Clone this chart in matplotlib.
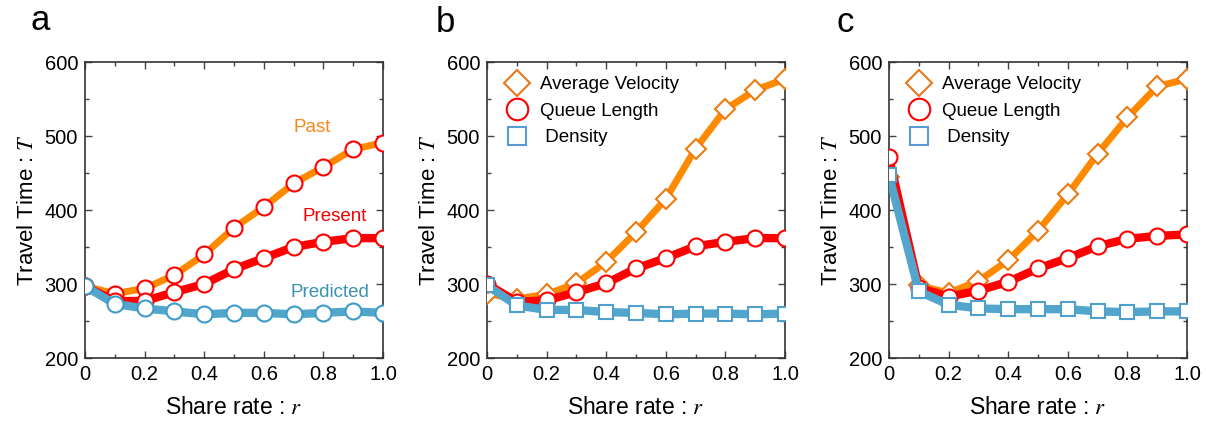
import matplotlib
matplotlib.use("Agg")
import matplotlib.pyplot as plt
from matplotlib.ticker import MultipleLocator, FixedLocator
from matplotlib.lines import Line2D

plt.rcParams['font.family'] = ['Liberation Sans', 'DejaVu Sans']
plt.rcParams['mathtext.fontset'] = 'stix'

r = [0.0, 0.1, 0.2, 0.3, 0.4, 0.5, 0.6, 0.7, 0.8, 0.9, 1.0]

# Panel a
a_past = [297, 287, 294, 312, 340, 376, 404, 436, 458, 482, 491]
a_present = [297, 277, 277, 289, 300, 320, 335, 350, 357, 362, 362]
a_predicted = [297, 273, 267, 263, 259, 261, 261, 259, 261, 263, 261]

# Panel b
b_velocity = [287, 280, 286, 301, 330, 370, 415, 483, 536, 562, 577]
b_queue = [300, 276, 278, 289, 301, 321, 335, 351, 357, 362, 362]
b_density = [298, 271, 265, 265, 262, 261, 259, 260, 260, 259, 260]

# Panel c
c_velocity = [445, 298, 288, 304, 332, 372, 421, 476, 525, 567, 577]
c_queue = [471, 295, 283, 291, 303, 321, 335, 351, 361, 365, 367]
c_density = [447, 290, 272, 267, 266, 266, 266, 263, 262, 263, 263]

panel_labels = ['a', 'b', 'c']
xticks = [0, 0.2, 0.4, 0.6, 0.8, 1.0]
xticklabels = ['0', '0.2', '0.4', '0.6', '0.8', '1.0']
yticks = [200, 300, 400, 500, 600]
legend_labels = ['Average Velocity', 'Queue Length', ' Density']

ORANGE = '#FF8A00'
ORANGE_EDGE = '#EE7A10'
RED = '#FF0000'
BLUE = '#52A5CB'

fig = plt.figure(figsize=(12.06, 4.23), dpi=100)
W, H = 1206, 423
lefts = [85, 487, 889]
label_pos = [(40, 20), (445, 22), (845, 22)]
axes = []
for lp in lefts:
    ax = fig.add_axes([lp / W, 1 - 358 / H, 298 / W, (358 - 62) / H])
    axes.append(ax)

LW = 5.0
MS = 11.5
MEW = 1.5

def style(ax, lab, pos):
    ax.set_xlim(0, 1.0)
    ax.set_ylim(200, 600)
    ax.xaxis.set_major_locator(FixedLocator(xticks))
    ax.set_xticklabels(xticklabels)
    ax.xaxis.set_minor_locator(MultipleLocator(0.1))
    ax.yaxis.set_major_locator(FixedLocator(yticks))
    ax.yaxis.set_minor_locator(MultipleLocator(50))
    ax.tick_params(which='both', direction='in', top=True, right=True,
                   labelsize=14.5, color='#444444', width=1.0)
    ax.tick_params(which='major', length=5, pad=5)
    ax.tick_params(which='minor', length=3)
    for s in ax.spines.values():
        s.set_color('#333333')
        s.set_linewidth(1.2)
    ax.set_xlabel('Share rate : $r$', fontsize=16.5, labelpad=9)
    ax.set_ylabel('Travel Time : $T$', fontsize=16, labelpad=5)
    fig.text(pos[0] / W, 1 - pos[1] / H, lab, fontsize=25,
             ha='center', va='center')

# Panel a
ax = axes[0]
ax.plot(r, a_past, color=ORANGE, lw=LW, marker='o', ms=MS, mfc='white',
        mec=RED, mew=MEW, zorder=3)
ax.plot(r, a_present, color=RED, lw=LW + 1, marker='o', ms=MS, mfc='white',
        mec=RED, mew=MEW, zorder=4)
ax.plot(r, a_predicted, color=BLUE, lw=LW + 1, marker='o', ms=MS, mfc='white',
        mec='#3E9CC8', mew=MEW, zorder=5)
ax.text(0.762, 512, 'Past', color='#F5891E', fontsize=13.5, ha='center', va='center')
ax.text(0.839, 391, 'Present', color='#F20000', fontsize=13.5, ha='center', va='center')
ax.text(0.822, 288, 'Predicted', color='#3A93AE', fontsize=13.5, ha='center', va='center')
style(ax, panel_labels[0], label_pos[0])

for i, (ax, vel, que, den) in enumerate([(axes[1], b_velocity, b_queue, b_density),
                                         (axes[2], c_velocity, c_queue, c_density)]):
    ax.plot(r, vel, color=ORANGE, lw=LW, marker='D', ms=MS - 1.5, mfc='white',
            mec=ORANGE_EDGE, mew=MEW, zorder=3)
    ax.plot(r, que, color=RED, lw=LW + 1, marker='o', ms=MS, mfc='white',
            mec=RED, mew=MEW, zorder=4)
    ax.plot(r, den, color=BLUE, lw=LW + 1, marker='s', ms=MS - 1, mfc='white',
            mec='#4FA0CC', mew=MEW, zorder=5)
    handles = [
        Line2D([], [], ls='none', marker='D', ms=MS + 2, mfc='white', mec='#E8761A', mew=MEW),
        Line2D([], [], ls='none', marker='o', ms=MS + 4, mfc='white', mec=RED, mew=MEW),
        Line2D([], [], ls='none', marker='s', ms=MS + 2, mfc='white', mec='#5B9BD5', mew=MEW),
    ]
    ax.legend(handles, legend_labels, loc='upper left', frameon=False,
              fontsize=13.5, handletextpad=0.2, labelspacing=0.5,
              borderaxespad=0.2, bbox_to_anchor=(0.0, 0.99))
    style(ax, panel_labels[i + 1], label_pos[i + 1])

fig.savefig('out.png', dpi=100)
